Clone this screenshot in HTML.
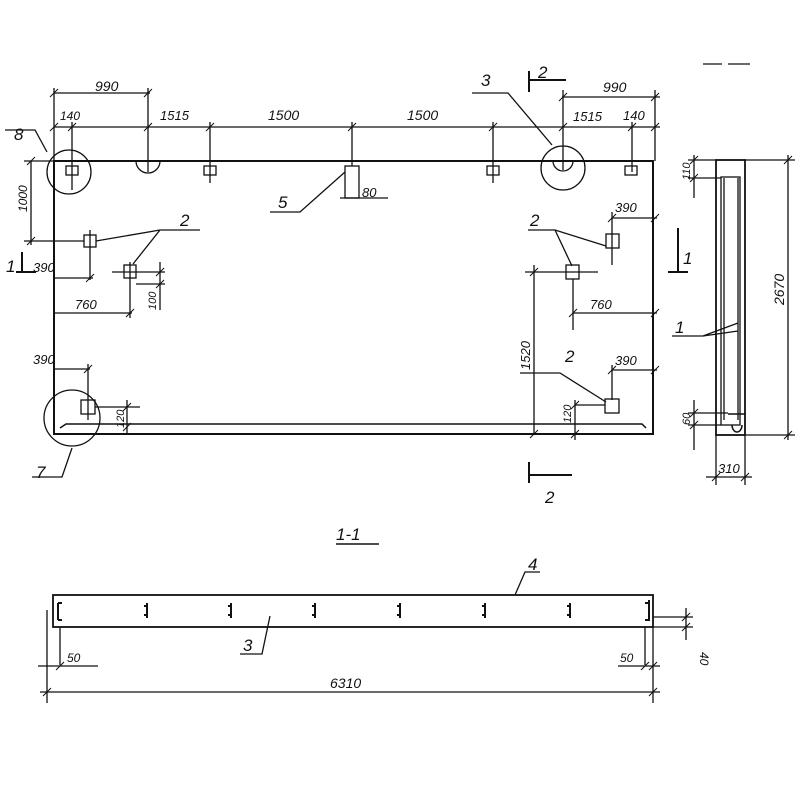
<!DOCTYPE html>
<html><head><meta charset="utf-8"><style>body{margin:0;background:#fff}svg{display:block}text{font-family:"Liberation Sans",sans-serif;font-style:italic;fill:#111}</style></head><body>
<svg width="800" height="800" viewBox="0 0 800 800" xmlns="http://www.w3.org/2000/svg">
<g stroke="#111" fill="none" stroke-width="1.3">
<!-- main panel -->
<rect x="54" y="161" width="599" height="273" stroke-width="2"/>
<path d="M60 428 L66 424 L642 424 L646 428" stroke-width="1.5"/>
<!-- top dims -->
<line x1="54" y1="127" x2="660" y2="127"/>
<line x1="54" y1="93" x2="150" y2="93"/>
<line x1="562" y1="97" x2="660" y2="97"/>
<line x1="54" y1="88" x2="54" y2="161"/>
<line x1="148" y1="88" x2="148" y2="172"/>
<line x1="72" y1="122" x2="72" y2="190"/>
<line x1="210" y1="122" x2="210" y2="183"/>
<line x1="352" y1="122" x2="352" y2="166"/>
<line x1="493" y1="122" x2="493" y2="183"/>
<line x1="563" y1="90" x2="563" y2="170"/>
<line x1="632" y1="122" x2="632" y2="172"/>
<line x1="655" y1="90" x2="655" y2="161"/>
<!-- ticks -->
<g stroke-width="1">
<path d="M50 131 L58 123 M50 97 L58 89 M144 97 L152 89 M68 131 L76 123 M144 131 L152 123 M206 131 L214 123 M348 131 L356 123 M489 131 L497 123 M559 131 L567 123 M559 101 L567 93 M628 131 L636 123 M651 131 L659 123 M651 101 L659 93"/>
</g>
<!-- top items -->
<rect x="66" y="166" width="12" height="9"/>
<path d="M136 161 A12 12 0 0 0 160 161"/>
<rect x="204" y="166" width="12" height="9"/>
<rect x="345" y="166" width="14" height="32"/>
<rect x="487" y="166" width="12" height="9"/>
<rect x="625" y="166" width="12" height="9"/>
<circle cx="69" cy="172" r="22"/>
<circle cx="563" cy="168" r="22"/>
<path d="M553 161 A10 10 0 0 0 573 161"/>
<circle cx="72" cy="418" r="28"/>
<!-- labels leaders -->
<path d="M5 130 L35 130 L47 152"/>
<path d="M270 212 L300 212 L345 172"/>
<line x1="340" y1="198" x2="388" y2="198"/>
<path d="M472 93 L508 93 L552 145"/>
<path d="M529 71 L529 92 M529 80 L566 80" stroke-width="2"/>
<path d="M529 462 L529 483 M529 475 L572 475" stroke-width="2"/>
<path d="M32 477 L62 477 L72 448"/>
<!-- left dims -->
<line x1="31" y1="161" x2="31" y2="245"/>
<line x1="24" y1="161" x2="54" y2="161"/>
<line x1="24" y1="241" x2="84" y2="241"/>
<path d="M27 165 L35 157 M27 245 L35 237" stroke-width="1"/>
<rect x="84" y="235" width="12" height="12"/>
<line x1="90" y1="230" x2="90" y2="280"/>
<path d="M96 241 L160 230 L200 230 M160 230 L133 264"/>
<rect x="124" y="265" width="12" height="13"/>
<line x1="112" y1="272" x2="165" y2="272"/>
<line x1="130" y1="262" x2="130" y2="318"/>
<line x1="136" y1="284" x2="165" y2="284"/>
<line x1="160" y1="262" x2="160" y2="310"/>
<line x1="54" y1="278" x2="93" y2="278"/>
<line x1="54" y1="313" x2="132" y2="313"/>
<path d="M86 282 L94 274 M126 317 L134 309 M156 276 L164 268 M156 288 L164 280" stroke-width="1"/>
<path d="M22 252 L22 272 M16 272 L36 272" stroke-width="2"/>
<line x1="54" y1="369" x2="90" y2="369"/>
<line x1="88" y1="364" x2="88" y2="420"/>
<rect x="81" y="400" width="14" height="14"/>
<line x1="95" y1="407" x2="140" y2="407"/>
<line x1="127" y1="400" x2="127" y2="434"/>
<path d="M123 411 L131 403 M123 431 L131 423 M84 373 L92 365" stroke-width="1"/>
<!-- right inner -->
<line x1="612" y1="218" x2="657" y2="218"/>
<line x1="612" y1="212" x2="612" y2="265"/>
<rect x="606" y="234" width="13" height="14"/>
<path d="M528 230 L555 230 L606 246 M555 230 L572 266"/>
<rect x="566" y="265" width="13" height="14"/>
<line x1="525" y1="272" x2="598" y2="272"/>
<line x1="573" y1="279" x2="573" y2="330"/>
<line x1="573" y1="313" x2="657" y2="313"/>
<line x1="534" y1="265" x2="534" y2="434"/>
<path d="M530 276 L538 268 M530 438 L538 430 M569 317 L577 309 M651 317 L659 309 M608 222 L616 214 M651 222 L659 214" stroke-width="1"/>
<line x1="612" y1="365" x2="612" y2="400"/>
<line x1="612" y1="370" x2="657" y2="370"/>
<rect x="605" y="399" width="14" height="14"/>
<path d="M520 373 L560 373 L606 402"/>
<line x1="575" y1="405" x2="605" y2="405"/>
<line x1="575" y1="400" x2="575" y2="440"/>
<path d="M571 409 L579 401 M571 438 L579 430 M608 374 L616 366 M651 374 L659 366" stroke-width="1"/>
<path d="M678 228 L678 272 M668 272 L688 272" stroke-width="2"/>
<!-- side view -->
<rect x="716" y="160" width="29" height="275" stroke-width="1.8"/>
<rect x="721" y="177" width="19" height="248"/>
<line x1="724" y1="178" x2="724" y2="420"/>
<line x1="738" y1="178" x2="738" y2="420"/>
<path d="M728 414 L745 414 M732 425 a5 7 0 0 0 10 0" stroke-width="1.5"/>
<line x1="745" y1="160" x2="795" y2="160"/>
<line x1="745" y1="435" x2="795" y2="435"/>
<line x1="788" y1="155" x2="788" y2="440"/>
<path d="M784 164 L792 156 M784 439 L792 431" stroke-width="1"/>
<line x1="688" y1="160" x2="716" y2="160"/>
<line x1="688" y1="178" x2="721" y2="178"/>
<line x1="694" y1="155" x2="694" y2="198"/>
<line x1="688" y1="413" x2="728" y2="413"/>
<line x1="688" y1="425" x2="721" y2="425"/>
<line x1="694" y1="400" x2="694" y2="450"/>
<path d="M690 164 L698 156 M690 182 L698 174 M690 417 L698 409 M690 429 L698 421" stroke-width="1"/>
<line x1="716" y1="435" x2="716" y2="485"/>
<line x1="745" y1="435" x2="745" y2="485"/>
<line x1="706" y1="477" x2="752" y2="477"/>
<path d="M712 481 L720 473 M741 481 L749 473" stroke-width="1"/>
<path d="M672 336 L703 336 L738 323 M703 336 L738 331"/>
<path d="M703 64 L722 64 M728 64 L750 64" stroke-width="1.3"/>
<!-- section 1-1 -->
<line x1="336" y1="544" x2="379" y2="544" stroke-width="1.5"/>
<rect x="53" y="595" width="600" height="32" stroke-width="1.8"/>
<path d="M515 595 L525 572 L540 572"/>
<path d="M240 654 L262 654 L270 616"/>
<g stroke-width="2">
<path d="M58 603 L58 620 M58 603 L62 603 M58 620 L62 620"/>
<path d="M147 603 L147 618 M144 606 L147 606 M144 615 L147 615"/>
<path d="M231 603 L231 618 M228 606 L231 606 M228 615 L231 615"/>
<path d="M315 603 L315 618 M312 606 L315 606 M312 615 L315 615"/>
<path d="M400 603 L400 618 M397 606 L400 606 M397 615 L400 615"/>
<path d="M485 603 L485 618 M482 606 L485 606 M482 615 L485 615"/>
<path d="M570 603 L570 618 M567 606 L570 606 M567 615 L570 615"/>
<path d="M649 600 L649 621 M645 603 L649 603 M645 620 L649 620"/>
</g>
<line x1="60" y1="627" x2="60" y2="665"/>
<line x1="645" y1="627" x2="645" y2="665"/>
<line x1="38" y1="666" x2="98" y2="666"/>
<line x1="618" y1="666" x2="660" y2="666"/>
<line x1="47" y1="610" x2="47" y2="703"/>
<line x1="653" y1="627" x2="653" y2="703"/>
<line x1="40" y1="692" x2="660" y2="692"/>
<path d="M43 696 L51 688 M649 696 L657 688 M56 670 L64 662 M641 670 L649 662 M649 670 L657 662" stroke-width="1"/>
<line x1="653" y1="617" x2="693" y2="617"/>
<line x1="653" y1="627" x2="693" y2="627"/>
<line x1="686" y1="608" x2="686" y2="640"/>
<path d="M682 621 L690 613 M682 631 L690 623" stroke-width="1"/>
</g>
<g font-size="14">
<text x="95" y="91">990</text>
<text x="60" y="120" font-size="12">140</text>
<text x="160" y="120" font-size="13">1515</text>
<text x="268" y="120">1500</text>
<text x="407" y="120">1500</text>
<text x="603" y="92">990</text>
<text x="573" y="121" font-size="13">1515</text>
<text x="623" y="120" font-size="13">140</text>
<text x="14" y="140" font-size="17">8</text>
<text x="481" y="86" font-size="17">3</text>
<text x="538" y="78" font-size="17">2</text>
<text x="545" y="503" font-size="17">2</text>
<text x="278" y="208" font-size="17">5</text>
<text x="362" y="197" font-size="13">80</text>
<text x="180" y="226" font-size="17">2</text>
<text x="530" y="226" font-size="17">2</text>
<text x="565" y="362" font-size="17">2</text>
<text x="6" y="272" font-size="17">1</text>
<text x="683" y="264" font-size="17">1</text>
<text x="33" y="272" font-size="13">390</text>
<text x="75" y="309" font-size="13">760</text>
<text x="33" y="364" font-size="13">390</text>
<text x="615" y="212" font-size="13">390</text>
<text x="590" y="309" font-size="13">760</text>
<text x="615" y="365" font-size="13">390</text>
<text x="36" y="478" font-size="17">7</text>
<text x="675" y="333" font-size="17">1</text>
<text x="718" y="473" font-size="13">310</text>
<text x="336" y="540" font-size="17">1-1</text>
<text x="528" y="570" font-size="17">4</text>
<text x="243" y="651" font-size="17">3</text>
<text x="67" y="662" font-size="12">50</text>
<text x="620" y="662" font-size="12">50</text>
<text x="330" y="688" font-size="14">6310</text>
<text transform="translate(27 212) rotate(-90)" font-size="12">1000</text>
<text transform="translate(156 310) rotate(-90)" font-size="11">100</text>
<text transform="translate(124 428) rotate(-90)" font-size="11">120</text>
<text transform="translate(530 370) rotate(-90)" font-size="13">1520</text>
<text transform="translate(571 423) rotate(-90)" font-size="11">120</text>
<text transform="translate(690 180) rotate(-90)" font-size="11">110</text>
<text transform="translate(690 425) rotate(-90)" font-size="11">60</text>
<text transform="translate(784 305) rotate(-90)" font-size="14">2670</text>
<text transform="translate(700 652) rotate(90)" font-size="12">40</text>
</g>
</svg>
</body></html>
